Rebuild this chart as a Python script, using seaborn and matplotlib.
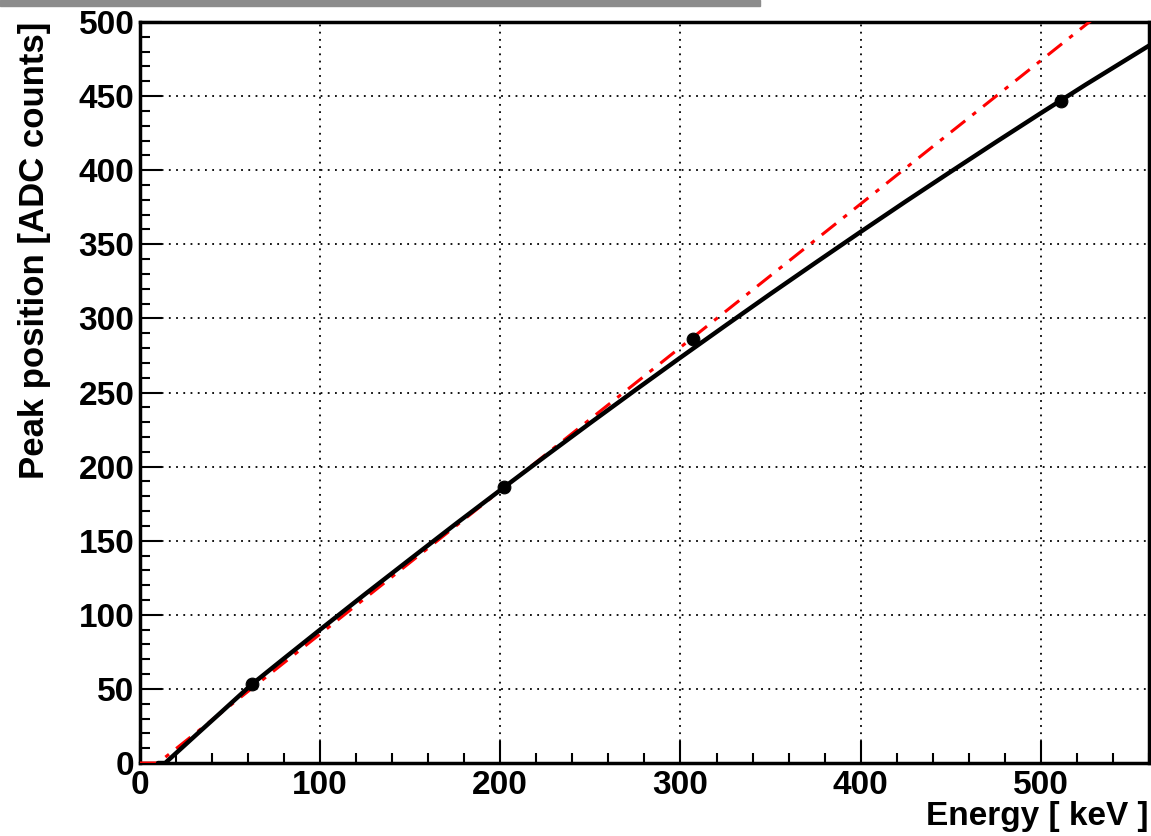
import matplotlib
matplotlib.use("Agg")
import matplotlib.pyplot as plt
from matplotlib.patches import Rectangle
from matplotlib.ticker import MultipleLocator
import seaborn as sns
import pandas as pd

# measured peaks
energy_pts = [62, 202, 307, 511]
peak_pts = [53, 186, 286, 447]

# black fit curve
fit_x = [10, 14, 30, 45, 62, 80, 100, 125, 150, 175, 202, 225, 250, 275, 300,
         325, 350, 375, 400, 425, 450, 475, 500, 525, 560]
fit_y = [0, 0, 17.7, 34.2, 53, 70.6, 90, 114, 137.6, 161.1, 186, 207, 229.5, 251.7, 273.6,
         295.2, 316.6, 337.6, 358.4, 378.9, 399, 418.9, 438.5, 457.8, 484]

# red linear fit (dash-dot)
lin_x = [0, 10, 560]
lin_y = [0, 0, 532]

sns.set_style("ticks")
plt.rcParams['font.family'] = ['Liberation Sans', 'DejaVu Sans']
plt.rcParams['font.weight'] = 'bold'
for key in ['text.color', 'axes.labelcolor', 'xtick.color', 'ytick.color', 'axes.edgecolor']:
    plt.rcParams[key] = 'black'

fig = plt.figure(figsize=(11.51, 8.36), dpi=100)
ax = fig.add_axes([0.1216, 0.0873, 0.8766, 0.8864])

# gray band at the top
fig.patches.append(Rectangle((0, 1 - 6 / 836), 760 / 1151, 6 / 836,
                             transform=fig.transFigure, color="#8c8c8c", zorder=0))

lin_df = pd.DataFrame({"x": lin_x, "y": lin_y})
fit_df = pd.DataFrame({"x": fit_x, "y": fit_y})
pts_df = pd.DataFrame({"x": energy_pts, "y": peak_pts})

sns.lineplot(data=lin_df, x="x", y="y", ax=ax, color="red", lw=2.2,
             linestyle=(0, (6, 3, 1.5, 3)), zorder=3)
sns.lineplot(data=fit_df, x="x", y="y", ax=ax, color="black", lw=3.2, zorder=4)
sns.scatterplot(data=pts_df, x="x", y="y", ax=ax, color="black", s=85,
                edgecolor="black", zorder=5)

ax.set_xlim(0, 560)
ax.set_ylim(0, 500)
ax.xaxis.set_major_locator(MultipleLocator(100))
ax.xaxis.set_minor_locator(MultipleLocator(20))
ax.yaxis.set_major_locator(MultipleLocator(50))
ax.yaxis.set_minor_locator(MultipleLocator(10))

ax.grid(True, which="major", color="black", linestyle=(0, (1, 3)), lw=1.3)
ax.tick_params(which="major", direction="in", length=16, width=1.5,
               labelsize=24, top=False, right=False)
ax.tick_params(axis="x", pad=5)
ax.tick_params(axis="y", pad=4)
ax.tick_params(which="minor", direction="in", length=7, width=1.5,
               top=False, right=False)
for lab in ax.get_xticklabels() + ax.get_yticklabels():
    lab.set_fontweight("bold")
for sp in ax.spines.values():
    sp.set_linewidth(2.5)

ax.set_xlabel("Energy [ keV ]", fontsize=24, fontweight="bold", loc="right", labelpad=0)
ax.set_ylabel("Peak position [ADC counts]", fontsize=25, fontweight="bold", loc="top", labelpad=20)

fig.savefig("out.png", dpi=100)
